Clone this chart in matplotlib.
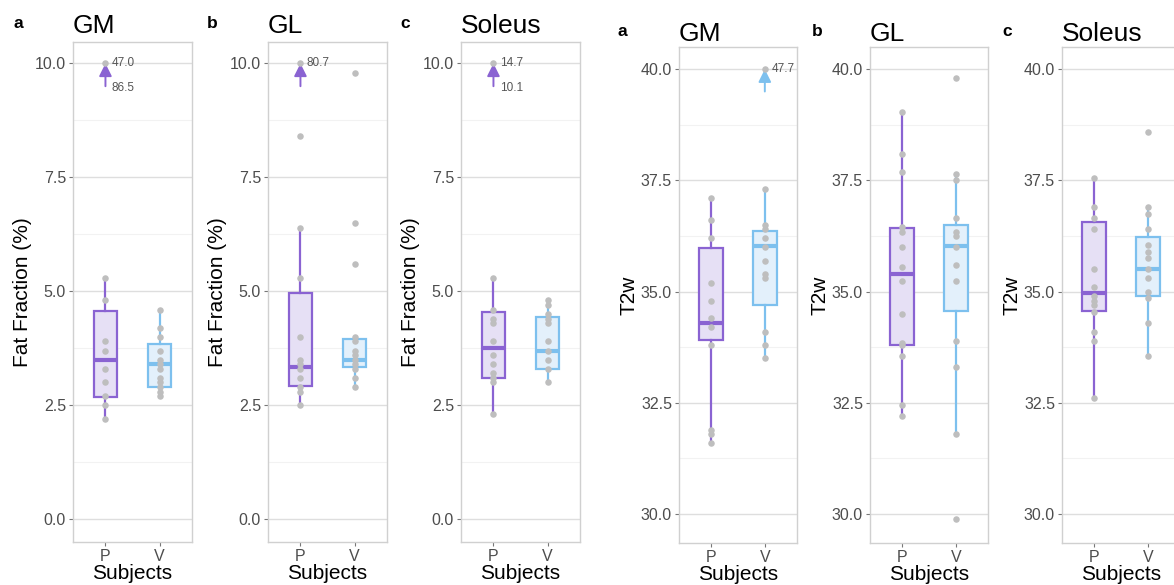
import matplotlib.pyplot as plt
import numpy as np

plt.rcParams['font.family'] = ['Liberation Sans', 'DejaVu Sans']

groups = ["P", "V"]
muscles = ["GM", "GL", "Soleus"]
tags = ["a", "b", "c"]

# fat fraction (%), visible points per group
ff_gm_p = [5.3, 4.8, 3.9, 3.7, 3.3, 3.0, 2.7, 2.5, 2.2]
ff_gm_v = [4.6, 4.2, 4.0, 3.7, 3.5, 3.4, 3.3, 3.1, 3.0, 2.9, 2.8, 2.7]
ff_gl_p = [8.4, 6.4, 5.3, 4.0, 3.5, 3.4, 3.3, 3.1, 2.9, 2.8, 2.5]
ff_gl_v = [9.8, 6.5, 5.6, 4.0, 3.9, 3.7, 3.6, 3.5, 3.4, 3.3, 3.1, 2.9]
ff_sol_p = [5.3, 4.6, 4.4, 4.3, 3.9, 3.6, 3.4, 3.2, 3.1, 3.0, 2.3]
ff_sol_v = [4.8, 4.7, 4.5, 4.4, 4.3, 3.9, 3.7, 3.5, 3.3, 3.0]

# values above the axis limit (shown as capped arrow + label)
ff_gm_p_over = [47.0, 86.5]
ff_gl_p_over = [80.7]
ff_sol_p_over = [14.7, 10.1]

# box stats: whisker low, q1, median, q3, whisker high
ff_gm_p_box = [2.2, 2.69, 3.49, 4.57, 5.3]
ff_gm_v_box = [2.7, 2.89, 3.40, 3.85, 4.6]
ff_gl_p_box = [2.5, 2.92, 3.33, 4.97, 6.4]
ff_gl_v_box = [2.9, 3.33, 3.49, 3.95, 4.0]
ff_sol_p_box = [2.3, 3.10, 3.75, 4.54, 5.3]
ff_sol_v_box = [3.0, 3.29, 3.70, 4.44, 4.8]

# T2w, visible points per group
t2_gm_p = [37.1, 36.6, 36.2, 35.2, 34.8, 34.4, 34.2, 33.8, 31.9, 31.8, 31.6]
t2_gm_v = [37.3, 36.5, 36.4, 36.2, 36.0, 35.7, 35.4, 35.3, 34.1, 33.8, 33.5]
t2_gl_p = [39.05, 38.1, 37.7, 36.45, 36.35, 36.0, 35.55, 35.25, 34.5, 33.85, 33.8, 33.55, 32.45, 32.2]
t2_gl_v = [39.8, 37.65, 37.5, 36.65, 36.35, 36.25, 36.0, 35.6, 35.25, 33.9, 33.3, 31.8, 29.9]
t2_sol_p = [37.55, 36.9, 36.65, 36.4, 35.5, 35.1, 34.9, 34.8, 34.7, 34.55, 34.1, 33.9, 32.6]
t2_sol_v = [38.6, 36.9, 36.75, 36.4, 36.05, 35.9, 35.75, 35.5, 35.3, 35.0, 34.85, 34.3, 33.55]

t2_gm_v_over = [47.7]

t2_gm_p_box = [31.6, 33.92, 34.30, 35.99, 37.1]
t2_gm_v_box = [33.5, 34.70, 36.03, 36.37, 37.3]
t2_gl_p_box = [32.2, 33.81, 35.39, 36.44, 39.05]
t2_gl_v_box = [31.8, 34.57, 36.03, 36.49, 37.65]
t2_sol_p_box = [32.6, 34.57, 34.98, 36.57, 37.55]
t2_sol_v_box = [33.55, 34.91, 35.52, 36.22, 36.9]

edge_cols = ["#8A63D2", "#7DC0EE"]
fill_cols = ["#E6E0F5", "#E3F0FB"]
point_col = "#BEBEBE"

W, H = 1174, 585
fig = plt.figure(figsize=(W / 100, H / 100), dpi=100)


def px_axes(left, top, right, bottom):
    return fig.add_axes([left / W, 1 - bottom / H, (right - left) / W, (bottom - top) / H])


def draw_panel(ax, points, boxes, overs, ylim, cap, major, minor, ylabel, arrow_len, box_w):
    stats = []
    for b in boxes:
        stats.append(dict(whislo=b[0], q1=b[1], med=b[2], q3=b[3], whishi=b[4], fliers=[]))
    for i in range(2):
        ax.bxp([stats[i]], positions=[i + 1], widths=box_w, patch_artist=True, showfliers=False,
               showcaps=False,
               boxprops=dict(facecolor=fill_cols[i], edgecolor=edge_cols[i], linewidth=1.6),
               whiskerprops=dict(color=edge_cols[i], linewidth=1.6),
               medianprops=dict(color=edge_cols[i], linewidth=3.0, solid_capstyle='butt'),
               zorder=2)
        ax.scatter(np.full(len(points[i]), i + 1), points[i], s=22, color=point_col,
                   linewidths=0, zorder=4)
    for i, ov in enumerate(overs):
        if not ov:
            continue
        ax.annotate("", xy=(i + 1, cap), xytext=(i + 1, cap - arrow_len),
                    arrowprops=dict(arrowstyle='-|>', color=edge_cols[i], lw=1.4,
                                    mutation_scale=19, shrinkA=0, shrinkB=0), zorder=3)
        ax.scatter([i + 1], [cap], s=22, color=point_col, linewidths=0, zorder=4)
        for k, v in enumerate(ov):
            ax.text(i + 1.12, cap - k * 0.54 * arrow_len / 0.5, f"{v:.1f}", fontsize=8.5,
                    color="#555555", va='center', ha='left')

    ax.set_xlim(0.4, 2.6)
    ax.set_ylim(*ylim)
    ax.set_xticks([1, 2])
    ax.set_xticklabels(groups)
    ax.set_yticks(major)
    ax.set_yticks(minor, minor=True)
    ax.yaxis.set_major_formatter(plt.FormatStrFormatter('%.1f'))
    ax.grid(axis='y', which='major', color='#DEDEDE', lw=1.0, zorder=0)
    ax.grid(axis='y', which='minor', color='#F2F2F2', lw=0.8, zorder=0)
    ax.set_axisbelow(True)
    for sp in ax.spines.values():
        sp.set_color('#D0D0D0')
        sp.set_linewidth(1.0)
    ax.tick_params(which='major', length=3, color='#777777', labelsize=11.5,
                   labelcolor='#4D4D4D', pad=2)
    ax.tick_params(which='minor', length=0)
    ax.set_ylabel(ylabel, fontsize=15, labelpad=2)
    ax.set_xlabel("Subjects", fontsize=15, labelpad=0)


ff_points = [(ff_gm_p, ff_gm_v), (ff_gl_p, ff_gl_v), (ff_sol_p, ff_sol_v)]
ff_boxes = [(ff_gm_p_box, ff_gm_v_box), (ff_gl_p_box, ff_gl_v_box), (ff_sol_p_box, ff_sol_v_box)]
ff_overs = [(ff_gm_p_over, []), (ff_gl_p_over, []), (ff_sol_p_over, [])]

t2_points = [(t2_gm_p, t2_gm_v), (t2_gl_p, t2_gl_v), (t2_sol_p, t2_sol_v)]
t2_boxes = [(t2_gm_p_box, t2_gm_v_box), (t2_gl_p_box, t2_gl_v_box), (t2_sol_p_box, t2_sol_v_box)]
t2_overs = [([], t2_gm_v_over), ([], []), ([], [])]

ff_lefts = [73, 268, 461]
ff_tag_x = [13, 207, 400]
t2_lefts = [679, 870, 1062]
t2_tag_x = [618, 812, 1002]

for j in range(3):
    ax = px_axes(ff_lefts[j], 42, ff_lefts[j] + 119, 542)
    draw_panel(ax, ff_points[j], ff_boxes[j], ff_overs[j], (-0.5, 10.47), 10.0,
               [0, 2.5, 5, 7.5, 10], [1.25, 3.75, 6.25, 8.75], "Fat Fraction (%)", 0.5, 0.42)
    fig.text(ff_lefts[j] / W, 1 - 33 / H, muscles[j], fontsize=19, va='baseline', ha='left')
    fig.text(ff_tag_x[j] / W, 1 - 28 / H, tags[j], fontsize=12.5, fontweight='bold',
             va='baseline', ha='left')

for j in range(3):
    ax = px_axes(t2_lefts[j], 47, t2_lefts[j] + 118, 543)
    draw_panel(ax, t2_points[j], t2_boxes[j], t2_overs[j], (29.35, 40.5), 40.0,
               [30, 32.5, 35, 37.5, 40], [31.25, 33.75, 36.25, 38.75], "T2w", 0.5, 0.44)
    fig.text(t2_lefts[j] / W, 1 - 41 / H, muscles[j], fontsize=19, va='baseline', ha='left')
    fig.text(t2_tag_x[j] / W, 1 - 36 / H, tags[j], fontsize=12.5, fontweight='bold',
             va='baseline', ha='left')

fig.savefig("out.png", dpi=100)
